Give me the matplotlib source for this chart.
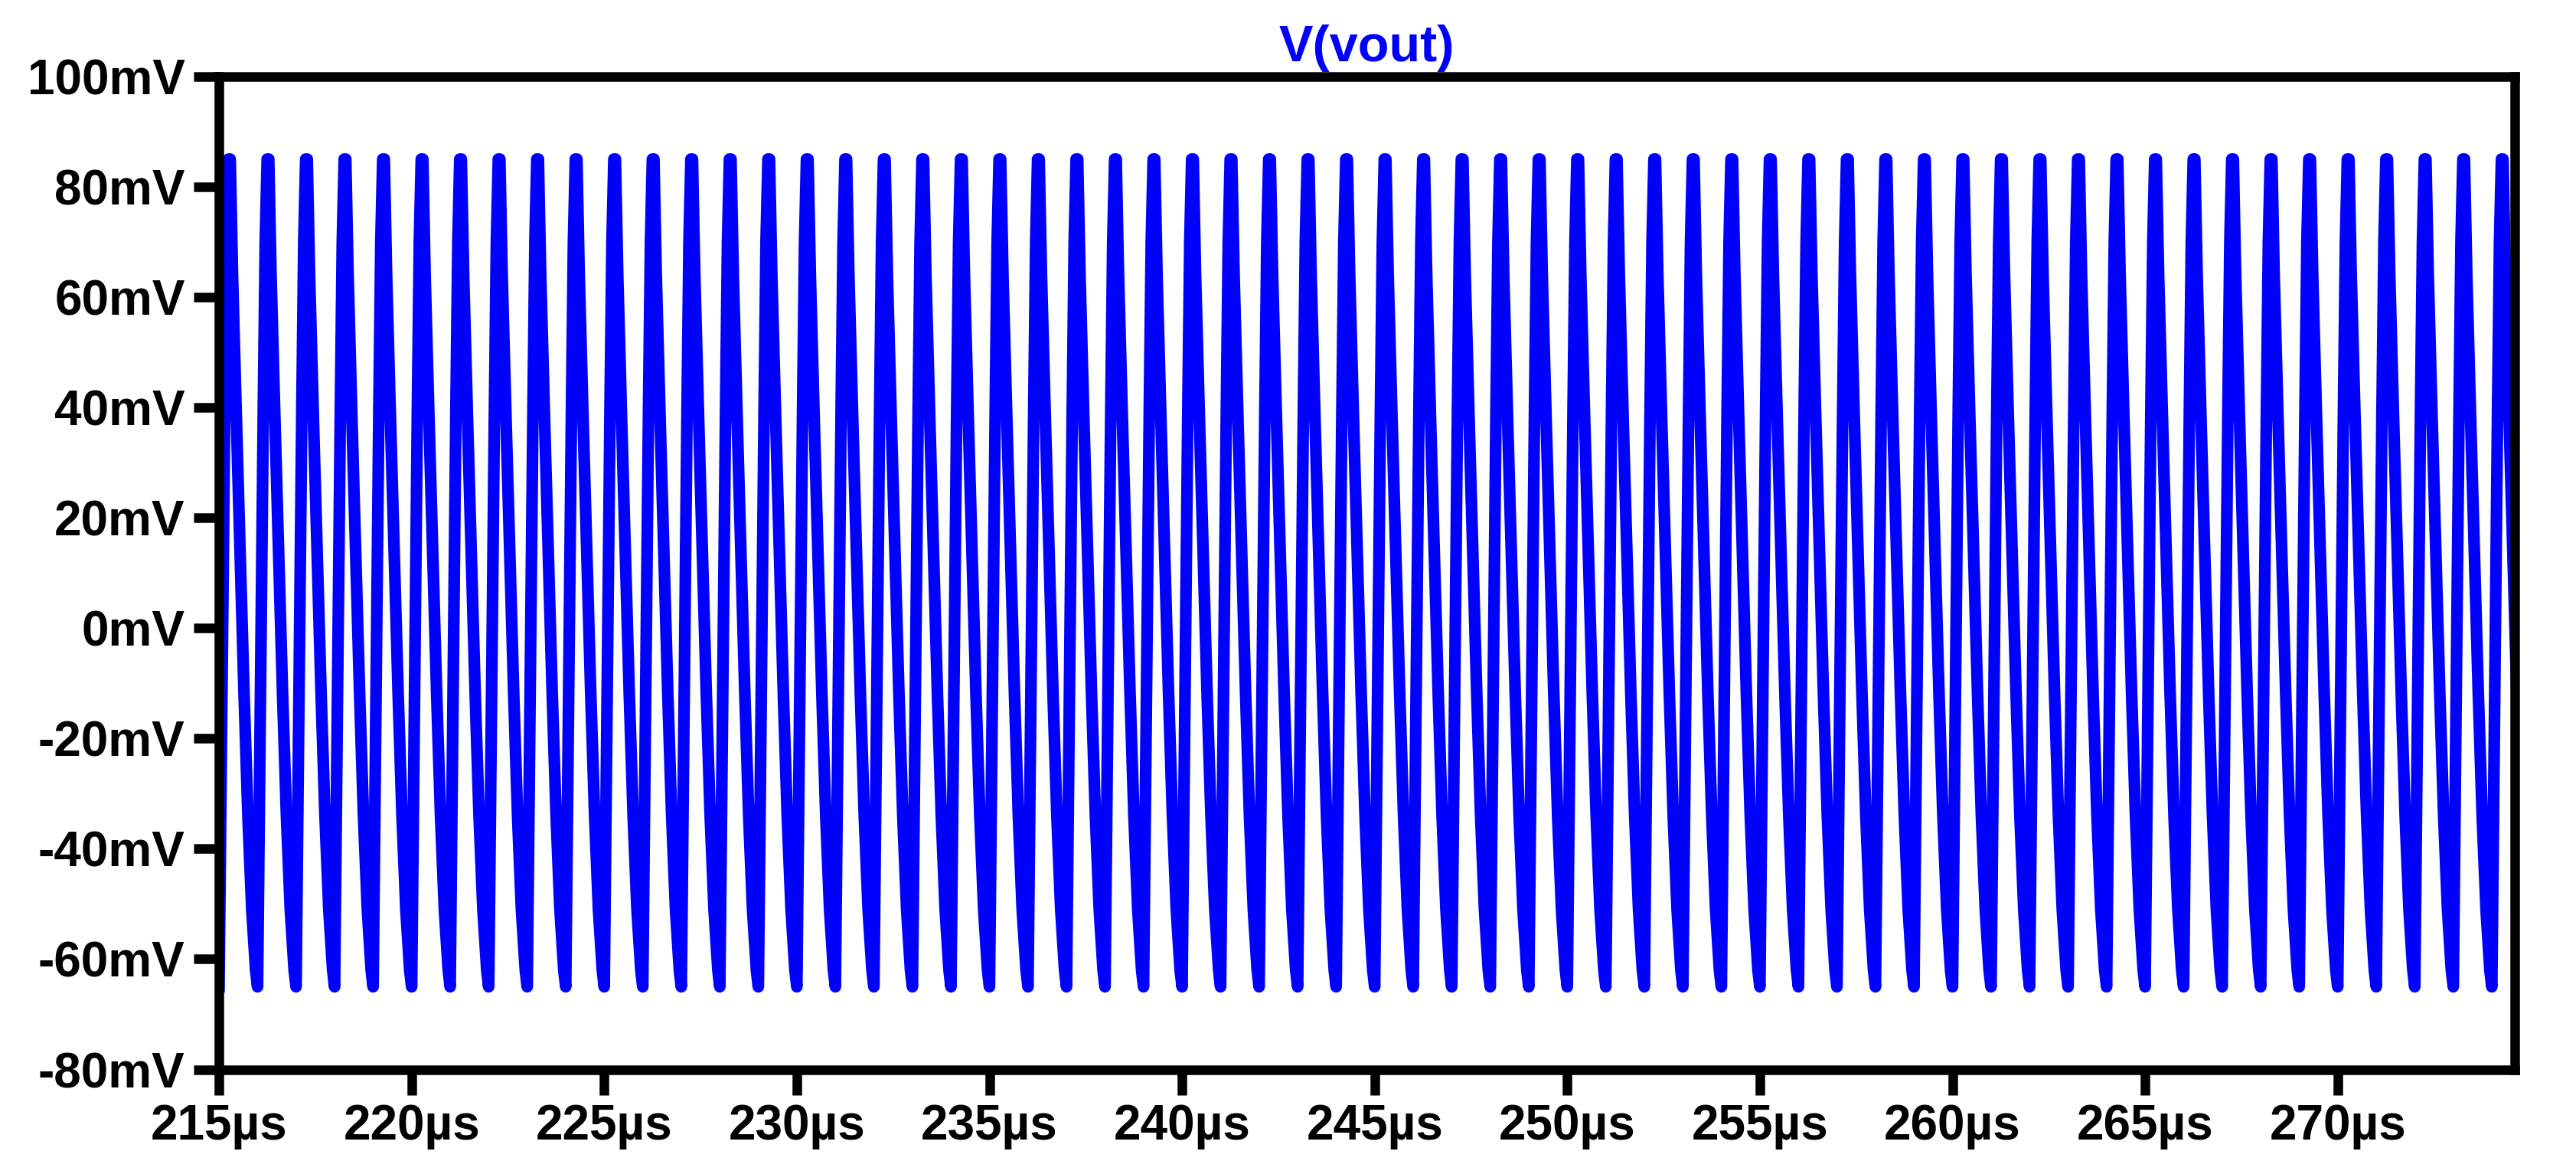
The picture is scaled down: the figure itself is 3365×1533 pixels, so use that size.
import numpy as np
import matplotlib.pyplot as plt

# one period of V(vout) (phase in us, value in mV)
phase = [0.0, 0.05, 0.10, 0.15, 0.20, 0.25, 0.29, 0.35, 0.45, 0.55, 0.65, 0.75, 0.85, 0.95, 1.0]
vout_mv = [-65, -30, 5, 40, 70, 85, 85, 64, 38, 13, -12, -34, -51, -62, -65]
t_start = 215.0
n_periods = 60
period = 1.0

xticks = list(range(215, 275, 5))
yticks = list(range(-80, 101, 20))

t = np.concatenate([t_start + k * period + np.array(phase[:-1]) for k in range(n_periods)])
v = np.tile(vout_mv[:-1], n_periods)

fig = plt.figure(figsize=(33.66, 15.33), dpi=100)
ax = fig.add_axes([0.085, 0.089, 0.891, 0.846])
ax.plot(t, v, color='#0000ff', linewidth=11, solid_joinstyle='round')
ax.set_xlim(215, 274.6)
ax.set_ylim(-80, 100)
ax.set_xticks(xticks)
ax.set_xticklabels([f'{x}µs' for x in xticks])
ax.set_yticks(yticks)
ax.set_yticklabels([f'{y}mV' for y in yticks])
for s in ax.spines.values():
    s.set_linewidth(9)
ax.tick_params(direction='out', length=24, width=9, labelsize=46, pad=8)
for lab in ax.get_xticklabels() + ax.get_yticklabels():
    lab.set_fontfamily('Liberation Sans')
    lab.set_fontweight('bold')
ax.set_title('V(vout)', color='#0000ff', fontsize=48, fontweight='bold',
             fontfamily='Liberation Sans', pad=14)
fig.savefig('out.png', dpi=100)
